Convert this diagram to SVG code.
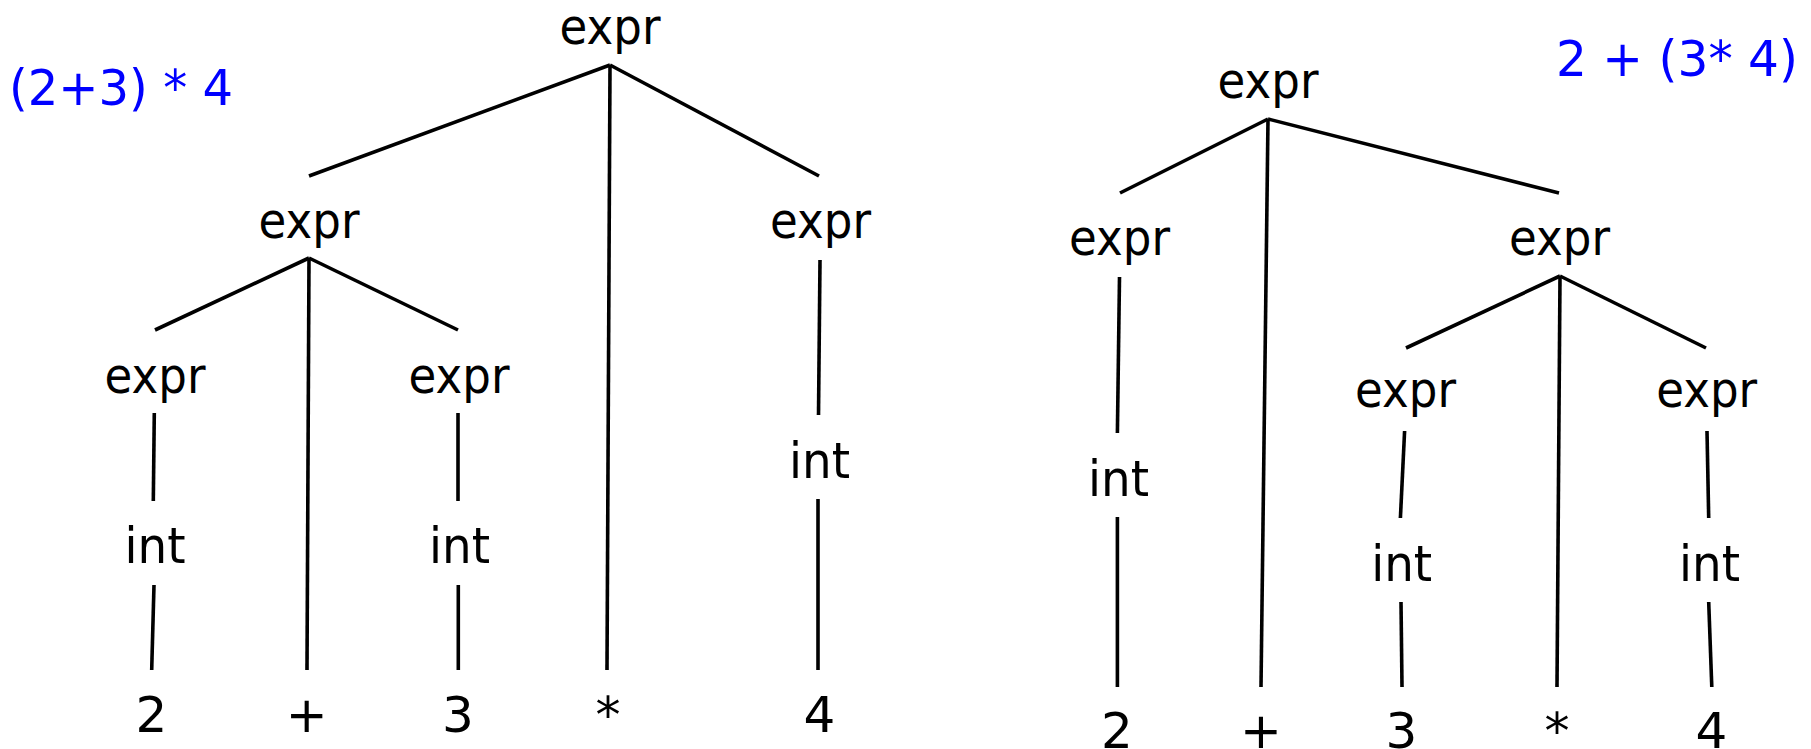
<svg xmlns="http://www.w3.org/2000/svg" width="1811" height="749" viewBox="0 0 1811 749">
<style>
.n{font-family:"DejaVu Sans","Liberation Sans",sans-serif;font-size:50px;fill:#000;text-anchor:middle}
.t{font-family:"DejaVu Sans","Liberation Sans",sans-serif;font-size:50px;fill:#0000ff}
.c line{stroke:#000;stroke-width:3.6;stroke-linecap:butt}
</style>
<rect width="1811" height="749" fill="#fff"/>
<text class="t" x="9" y="105" textLength="224" lengthAdjust="spacingAndGlyphs">(2+3) * 4</text>
<text class="t" x="1556" y="76" textLength="242" lengthAdjust="spacingAndGlyphs">2 + (3* 4)</text>
<g id="connectors" class="c">
<line x1="610" y1="65" x2="309" y2="176"/>
<line x1="610" y1="65" x2="819" y2="176"/>
<line x1="610" y1="65" x2="607" y2="670"/>
<line x1="309" y1="258" x2="155" y2="330"/>
<line x1="309" y1="258" x2="458" y2="330"/>
<line x1="309" y1="258" x2="307" y2="670"/>
<line x1="154.3" y1="413" x2="153.3" y2="501"/>
<line x1="154" y1="585" x2="151.7" y2="670"/>
<line x1="458" y1="413" x2="458" y2="501"/>
<line x1="458.3" y1="585" x2="458.3" y2="670"/>
<line x1="820" y1="260" x2="818.5" y2="415"/>
<line x1="818" y1="499" x2="818" y2="670"/>
<line x1="1268" y1="119" x2="1120" y2="193"/>
<line x1="1268" y1="119" x2="1559" y2="193"/>
<line x1="1268" y1="119" x2="1261" y2="687"/>
<line x1="1119.5" y1="277" x2="1117.4" y2="433"/>
<line x1="1117.4" y1="517" x2="1117.4" y2="687"/>
<line x1="1560" y1="276" x2="1406" y2="348"/>
<line x1="1560" y1="276" x2="1706" y2="348"/>
<line x1="1560" y1="276" x2="1557" y2="687"/>
<line x1="1404.6" y1="431" x2="1400.4" y2="518"/>
<line x1="1401" y1="602" x2="1402" y2="687"/>
<line x1="1707" y1="431" x2="1708.7" y2="518"/>
<line x1="1708.7" y1="602" x2="1711.8" y2="687"/>
</g>
<g id="L_root"><text class="n" x="610" y="44" textLength="101" lengthAdjust="spacingAndGlyphs">expr</text></g>
<g id="L_e1"><text class="n" x="309" y="238" textLength="101" lengthAdjust="spacingAndGlyphs">expr</text></g>
<g id="L_e2"><text class="n" x="820.5" y="238" textLength="101" lengthAdjust="spacingAndGlyphs">expr</text></g>
<g id="L_e11"><text class="n" x="155" y="393" textLength="101" lengthAdjust="spacingAndGlyphs">expr</text></g>
<g id="L_e12"><text class="n" x="459" y="393" textLength="101" lengthAdjust="spacingAndGlyphs">expr</text></g>
<g id="L_i11"><text class="n" x="155" y="563" textLength="61" lengthAdjust="spacingAndGlyphs">int</text></g>
<g id="L_i12"><text class="n" x="459.5" y="563" textLength="61" lengthAdjust="spacingAndGlyphs">int</text></g>
<g id="L_i2"><text class="n" x="819.5" y="478" textLength="61" lengthAdjust="spacingAndGlyphs">int</text></g>
<g id="L_2"><text class="n" x="151.3" y="732">2</text></g>
<g id="L_plus"><text class="n" x="306.8" y="732">+</text></g>
<g id="L_3"><text class="n" x="458" y="732">3</text></g>
<g id="L_star"><text class="n" x="608" y="732">*</text></g>
<g id="L_4"><text class="n" x="819.5" y="732">4</text></g>
<g id="R_root"><text class="n" x="1268" y="98" textLength="101" lengthAdjust="spacingAndGlyphs">expr</text></g>
<g id="R_e1"><text class="n" x="1119.5" y="255" textLength="101" lengthAdjust="spacingAndGlyphs">expr</text></g>
<g id="R_e2"><text class="n" x="1559.5" y="255" textLength="101" lengthAdjust="spacingAndGlyphs">expr</text></g>
<g id="R_i1"><text class="n" x="1118.5" y="496" textLength="61" lengthAdjust="spacingAndGlyphs">int</text></g>
<g id="R_e21"><text class="n" x="1405.6" y="407" textLength="101" lengthAdjust="spacingAndGlyphs">expr</text></g>
<g id="R_e22"><text class="n" x="1706.7" y="407" textLength="101" lengthAdjust="spacingAndGlyphs">expr</text></g>
<g id="R_i21"><text class="n" x="1401.7" y="581" textLength="61" lengthAdjust="spacingAndGlyphs">int</text></g>
<g id="R_i22"><text class="n" x="1709.5" y="581" textLength="61" lengthAdjust="spacingAndGlyphs">int</text></g>
<g id="R_2"><text class="n" x="1117" y="748">2</text></g>
<g id="R_plus"><text class="n" x="1261" y="748">+</text></g>
<g id="R_3"><text class="n" x="1401.5" y="748">3</text></g>
<g id="R_star"><text class="n" x="1557" y="748">*</text></g>
<g id="R_4"><text class="n" x="1711.4" y="748">4</text></g>
</svg>
